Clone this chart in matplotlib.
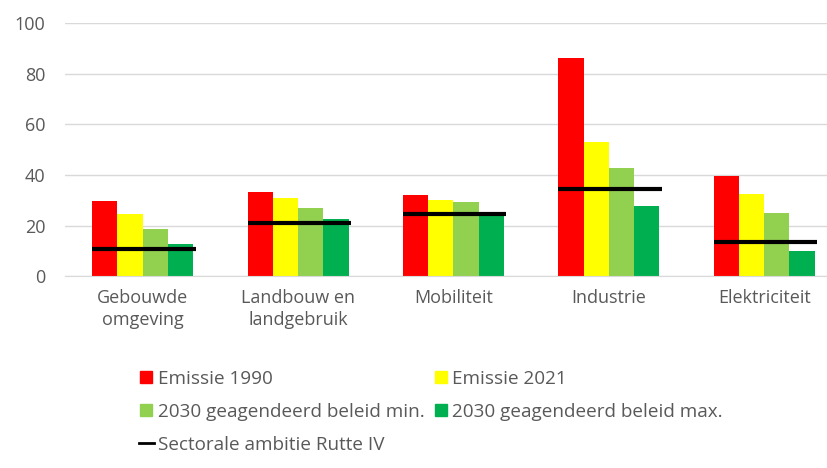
import numpy as np
import matplotlib
matplotlib.use("Agg")
import matplotlib.pyplot as plt
from matplotlib.lines import Line2D

plt.rcParams['font.family'] = ['Open Sans', 'DejaVu Sans']

sectors = ["Gebouwde\nomgeving", "Landbouw en\nlandgebruik", "Mobiliteit", "Industrie", "Elektriciteit"]
emissie_1990 = [29.8, 33.2, 31.9, 86.2, 39.4]
emissie_2021 = [24.5, 30.8, 30.2, 53.2, 32.4]
beleid_min = [18.7, 26.9, 29.5, 42.9, 24.8]
beleid_max = [12.8, 22.5, 24.2, 27.9, 9.9]
ambitie = [10.8, 21.1, 24.5, 34.4, 13.4]

series = [
    ("Emissie 1990", emissie_1990, "#FF0000"),
    ("Emissie 2021", emissie_2021, "#FFFF00"),
    ("2030 geagendeerd beleid min.", beleid_min, "#92D050"),
    ("2030 geagendeerd beleid max.", beleid_max, "#00B050"),
]

fig = plt.figure(figsize=(8.27, 4.68), dpi=100)
ax = fig.add_axes([0.0786, 0.4096, 0.93, 0.5413])

x = np.arange(len(sectors))
w = 0.1625
for i, (name, vals, col) in enumerate(series):
    ax.bar(x + (i - 1.5) * w, vals, width=w, color=col, zorder=2)

ax.hlines(ambitie, x - 2 * w, x + 2.1 * w, colors="black", lw=3, zorder=3)

ax.set_ylim(0, 100)
ax.set_xlim(-0.5, 4.45)
ax.set_yticks(range(0, 101, 20))
ax.set_xticks(x)
ax.set_xticklabels(sectors, color="#595959", fontsize=13, linespacing=1.3)
ax.tick_params(axis="y", colors="#595959", labelsize=13, length=0, pad=14)
ax.tick_params(axis="x", length=0, pad=9)
ax.grid(axis="y", color="#D9D9D9", lw=1, zorder=0)
for s in ["top", "right", "left"]:
    ax.spines[s].set_visible(False)
ax.spines["bottom"].set_color("#D9D9D9")

sq = dict(marker="s", linestyle="none", markersize=9)
handles = [
    Line2D([], [], color="#FF0000", **sq),
    Line2D([], [], color="#92D050", **sq),
    Line2D([], [], color="black", lw=2),
    Line2D([], [], color="#FFFF00", **sq),
    Line2D([], [], color="#00B050", **sq),
]
labels = ["Emissie 1990", "2030 geagendeerd beleid min.", "Sectorale ambitie Rutte IV",
          "Emissie 2021", "2030 geagendeerd beleid max."]
leg = fig.legend(handles, labels, ncol=2, loc="upper left", bbox_to_anchor=(0.168, 0.21),
                 frameon=False, fontsize=13.6, handlelength=0.8, handletextpad=0.2,
                 columnspacing=0.45, labelspacing=0.8, borderaxespad=0, borderpad=0)
for t in leg.get_texts():
    t.set_color("#595959")

fig.savefig("out.png", dpi=100)
